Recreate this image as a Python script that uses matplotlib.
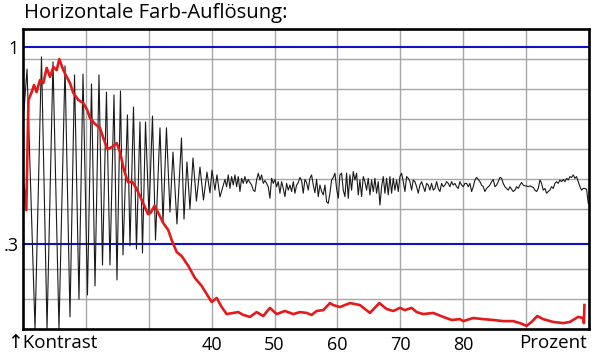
import numpy as np
import matplotlib
matplotlib.use("Agg")
import matplotlib.pyplot as plt

plt.rcParams['font.family'] = ['Open Sans', 'DejaVu Sans']

# ---- data (x in percent, y in contrast) ----
chirp_x = [10.16, 10.64, 11.91, 12.94, 13.82, 14.77, 15.72, 16.68, 17.47, 18.19,
           18.90, 19.54, 20.25, 20.89, 21.45, 22.08, 22.64, 23.27, 23.83, 24.47,
           24.94, 25.50, 25.90, 26.61, 27.01, 27.57, 28.04, 28.60, 29.00, 29.48,
           30.03, 30.59, 31.07, 31.78, 32.26, 32.81, 33.37, 33.85, 34.48, 35.20,
           35.60, 36.07, 36.55, 37.03, 37.58, 38.14, 38.70, 39.25, 39.73, 40.05,
           40.52, 40.84, 41.32]
chirp_y = [0.777, 0.923, 0.0, 0.966, 0.0, 0.948, 0.0, 0.934, 0.043, 0.902,
           0.106, 0.905, 0.121, 0.870, 0.153, 0.902, 0.227, 0.841, 0.227, 0.831,
           0.174, 0.845, 0.263, 0.760, 0.295, 0.788, 0.284, 0.735, 0.270, 0.735,
           0.405, 0.756, 0.316, 0.714, 0.380, 0.714, 0.415, 0.628, 0.373, 0.678,
           0.390, 0.593, 0.426, 0.607, 0.454, 0.575, 0.458, 0.557, 0.483, 0.564,
           0.493, 0.547, 0.469]

noise_start, noise_end = 42.11, 99.88
noise_y = [
    0.531, 0.505, 0.547, 0.499, 0.541, 0.511, 0.547, 0.505, 0.541, 0.488,
    0.535, 0.517, 0.541, 0.517, 0.531, 0.520, 0.511, 0.493, 0.488, 0.529,
    0.553, 0.529, 0.547, 0.517, 0.527, 0.517, 0.505, 0.464, 0.535, 0.517,
    0.531, 0.505, 0.523, 0.482, 0.523, 0.499, 0.470, 0.517, 0.493, 0.511,
    0.488, 0.523, 0.482, 0.511, 0.520, 0.538, 0.527, 0.482, 0.531, 0.520,
    0.493, 0.535, 0.547, 0.511, 0.484, 0.531, 0.470, 0.511, 0.488, 0.476,
    0.511, 0.452, 0.446, 0.482, 0.529, 0.538, 0.553, 0.499, 0.464, 0.547,
    0.553, 0.493,
    0.470, 0.553, 0.464, 0.547, 0.493, 0.559, 0.529, 0.553, 0.476, 0.529,
    0.470, 0.541, 0.523, 0.493, 0.535, 0.476, 0.529, 0.488, 0.535, 0.482,
    0.523, 0.440, 0.505, 0.541, 0.482, 0.535, 0.476, 0.541, 0.482, 0.535,
    0.493, 0.529, 0.488, 0.541, 0.553, 0.523, 0.488, 0.541, 0.535, 0.523,
    0.493, 0.529, 0.523, 0.505, 0.482, 0.511, 0.523, 0.505, 0.488, 0.517,
    0.511, 0.493, 0.517, 0.493, 0.499, 0.523, 0.499, 0.488, 0.517, 0.505,
    0.511, 0.523, 0.517, 0.505, 0.523, 0.511, 0.517, 0.505, 0.499, 0.523,
    0.511, 0.505, 0.517,
    0.517, 0.505, 0.517, 0.488, 0.505, 0.529, 0.538, 0.531, 0.523, 0.511,
    0.505, 0.488, 0.499, 0.505, 0.511, 0.523, 0.531, 0.505, 0.511, 0.523,
    0.538, 0.535, 0.517, 0.505, 0.499, 0.493, 0.505, 0.496, 0.488, 0.493,
    0.505, 0.499, 0.511, 0.520, 0.511, 0.508, 0.508, 0.505, 0.508, 0.505,
    0.503, 0.493, 0.488, 0.499, 0.529, 0.517, 0.493, 0.499, 0.482, 0.488,
    0.493, 0.505, 0.499, 0.517, 0.523, 0.517, 0.529, 0.523, 0.531, 0.523,
    0.535, 0.529, 0.541, 0.538, 0.547, 0.535, 0.541, 0.523, 0.505, 0.493,
    0.499, 0.499, 0.496, 0.446]

red_x = [10.05, 10.52, 10.87, 11.38, 11.75, 12.15, 12.70, 13.23, 13.77, 14.29,
         14.82, 15.36, 15.77, 16.41, 16.95, 17.47, 18.00, 18.79, 19.59, 20.22,
         20.65, 21.45, 22.24, 22.77, 23.43, 24.15, 24.90, 25.42, 26.06, 26.69,
         27.41, 27.97, 28.60, 29.24, 29.87, 30.27, 30.91, 31.51, 32.31, 33.10,
         33.64, 34.44, 35.23, 36.28, 37.34, 38.41, 39.21, 40.00, 40.80, 41.59,
         42.39, 43.43, 44.23, 45.02, 46.09, 47.15, 48.20, 49.27, 50.33, 51.65,
         52.97, 54.04, 55.10, 55.90, 56.69, 57.74, 58.81, 59.33, 60.40, 61.99,
         63.58, 65.17, 66.65, 67.82, 68.87, 69.94, 70.73, 71.80, 72.59, 73.64,
         75.23, 76.82, 78.16, 79.48, 80.00, 81.59, 83.18, 84.77, 86.36, 87.95,
         89.01, 90.08, 90.87, 91.77, 92.72, 94.31, 95.90, 96.96, 98.28, 99.03,
         99.19, 99.27]
red_y = [0.511, 0.422, 0.813, 0.841, 0.866, 0.841, 0.884, 0.873, 0.927, 0.895,
         0.930, 0.919, 0.958, 0.919, 0.895, 0.873, 0.838, 0.813, 0.802, 0.777,
         0.749, 0.728, 0.714, 0.678, 0.639, 0.646, 0.660, 0.628, 0.564, 0.522,
         0.522, 0.501, 0.472, 0.440, 0.408, 0.412, 0.437, 0.412, 0.376, 0.351,
         0.316, 0.273, 0.259, 0.224, 0.181, 0.153, 0.124, 0.096, 0.110, 0.078,
         0.053, 0.057, 0.060, 0.050, 0.043, 0.060, 0.046, 0.075, 0.053, 0.064,
         0.053, 0.060, 0.057, 0.050, 0.064, 0.067, 0.092, 0.085, 0.078, 0.092,
         0.085, 0.057, 0.092, 0.071, 0.064, 0.075, 0.067, 0.075, 0.060, 0.053,
         0.057, 0.043, 0.032, 0.035, 0.028, 0.039, 0.035, 0.032, 0.028, 0.028,
         0.021, 0.011, 0.025, 0.046, 0.035, 0.025, 0.021, 0.025, 0.043, 0.039,
         0.021, 0.085]

ref_levels = [1.0, 0.3]
ref_labels = ['1', '.3']
x_tick_vals = [40, 50, 60, 70, 80]
x_tick_labels = ['40', '50', '60', '70', '80']
title = "Horizontale Farb-Auflösung:"

# ---- figure ----
fig = plt.figure(figsize=(6.0, 3.64), dpi=100)
ax = fig.add_axes([23/600, 35/364, 566/600, 300/364])
ymax = 1.065
ax.set_xlim(10, 100)
ax.set_ylim(0, ymax)

# grid
vgrid = np.arange(20, 100, 10)
hgrid = [ymax * k / 10 for k in (1, 2, 4, 5, 6, 7, 8, 9)]
ax.vlines(vgrid, 0, ymax, color='#a6a6a6', lw=1.0, zorder=1)
ax.hlines(hgrid, 10, 100, color='#a6a6a6', lw=1.0, zorder=1)
ax.hlines(ref_levels, 10, 100, color='#1010c8', lw=1.5, zorder=2)

black_x = np.concatenate([chirp_x, np.linspace(noise_start, noise_end, len(noise_y))])
black_y = np.concatenate([chirp_y, noise_y])
ax.plot(black_x, black_y, color='#1a1a1a', lw=0.8, zorder=3)
ax.plot(red_x, red_y, color='#e41a1a', lw=1.9, zorder=4, solid_joinstyle='round')

for s in ax.spines.values():
    s.set_linewidth(1.9)
    s.set_color('black')
    s.set_zorder(5)

ax.set_xticks(x_tick_vals)
ax.set_xticklabels(x_tick_labels, fontsize=13)
ax.set_yticks(ref_levels)
ax.set_yticklabels(ref_labels, fontsize=13)
ax.tick_params(length=0)
ax.tick_params(axis='x', pad=5)
ax.tick_params(axis='y', pad=3)

fig.text(24/600, 1 - 3/364, title, fontsize=14.6, ha='left', va='top')
fig.text(7/600, 1 - 343/364, "↑Kontrast", fontsize=13.5, ha='left', va='center')
fig.text(587/600, 1 - 343/364, "Prozent", fontsize=13.5, ha='right', va='center')

fig.savefig("out.png", dpi=100)
